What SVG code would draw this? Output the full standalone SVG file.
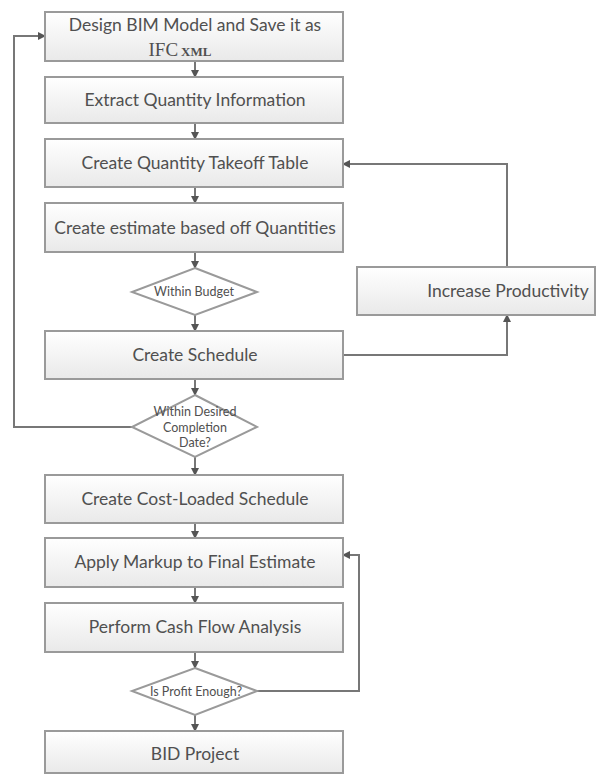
<svg xmlns="http://www.w3.org/2000/svg" width="597" height="775" viewBox="0 0 597 775">
<defs>
<linearGradient id="g" x1="0" y1="0" x2="0" y2="1">
<stop offset="0" stop-color="#ffffff"/>
<stop offset="1" stop-color="#e9e9e9"/>
</linearGradient>
<marker id="ah" markerWidth="8" markerHeight="8" refX="7" refY="4" orient="auto" markerUnits="userSpaceOnUse">
<path d="M0,0 L8,4 L0,8 Z" fill="#555"/>
</marker>
<style>
.box{fill:url(#g);stroke:#9a9a9a;stroke-width:2}
.dia{fill:#ffffff;stroke:#9a9a9a;stroke-width:2}
.t{font-family:Lato,"Open Sans","Liberation Sans",sans-serif;font-size:17.5px;fill:#505050;text-anchor:middle}
.s{font-family:Lato,"Open Sans","Liberation Sans",sans-serif;font-size:12.5px;fill:#505050;text-anchor:middle}
.c{fill:none;stroke:#777;stroke-width:2;marker-end:url(#ah)}
</style>
</defs>
<rect width="597" height="775" fill="#fff"/>
<g id="connectors">
<path class="c" d="M195,61 V77"/>
<path class="c" d="M195,123 V139"/>
<path class="c" d="M195,187 V203"/>
<path class="c" d="M195,252 V268"/>
<path class="c" d="M195,315 V331"/>
<path class="c" d="M195,379 V395"/>
<path class="c" d="M195,457 V475"/>
<path class="c" d="M195,523 V538"/>
<path class="c" d="M195,587 V603"/>
<path class="c" d="M195,652 V668"/>
<path class="c" d="M195,715 V731"/>
<path class="c" d="M132,427 H14 V36 H45"/>
<path class="c" d="M343,355 H507 V315"/>
<path class="c" d="M507,267 V164 H343"/>
<path class="c" d="M257,691 H359 V555 H343"/>
</g>
<g id="n1"><rect class="box" x="45" y="12" width="298" height="49"/>
<text class="t" x="195" y="31">Design BIM Model and Save it as</text>
<text x="180" y="56" text-anchor="middle" fill="#505050" font-family="'Liberation Serif',serif"><tspan font-size="19">IFC</tspan><tspan font-size="13" font-weight="bold" dx="3">XML</tspan></text></g>
<g id="n2"><rect class="box" x="45" y="77" width="298" height="46"/><text class="t" x="195" y="106">Extract Quantity Information</text></g>
<g id="n3"><rect class="box" x="45" y="139" width="298" height="48"/><text class="t" x="195" y="169">Create Quantity Takeoff Table</text></g>
<g id="n4"><rect class="box" x="45" y="203" width="298" height="49"/><text class="t" x="195" y="234">Create estimate based off Quantities</text></g>
<g id="d1"><polygon class="dia" points="195,268 257,292 195,315 132,292"/><text class="s" x="194" y="296" font-size="11">Within Budget</text></g>
<g id="n5"><rect class="box" x="45" y="331" width="298" height="48"/><text class="t" x="195" y="361">Create Schedule</text></g>
<g id="n6"><rect class="box" x="357" y="267" width="238" height="48"/><text class="t" x="508" y="297">Increase Productivity</text></g>
<g id="d2"><polygon class="dia" points="195,395 257,427 195,457 132,427"/>
<text class="s" x="195" y="416">Within Desired</text><text class="s" x="195" y="432">Completion</text><text class="s" x="195" y="447">Date?</text></g>
<g id="n7"><rect class="box" x="45" y="475" width="298" height="48"/><text class="t" x="195" y="505">Create Cost-Loaded Schedule</text></g>
<g id="n8"><rect class="box" x="45" y="538" width="298" height="49"/><text class="t" x="195" y="568">Apply Markup to Final Estimate</text></g>
<g id="n9"><rect class="box" x="45" y="603" width="298" height="49"/><text class="t" x="195" y="633">Perform Cash Flow Analysis</text></g>
<g id="d3"><polygon class="dia" points="195,668 257,691 195,715 132,691"/><text class="s" x="196" y="696" font-size="14.5">Is Profit Enough?</text></g>
<g id="n10"><rect class="box" x="45" y="731" width="298" height="42"/><text class="t" x="195" y="760">BID Project</text></g>
</svg>
